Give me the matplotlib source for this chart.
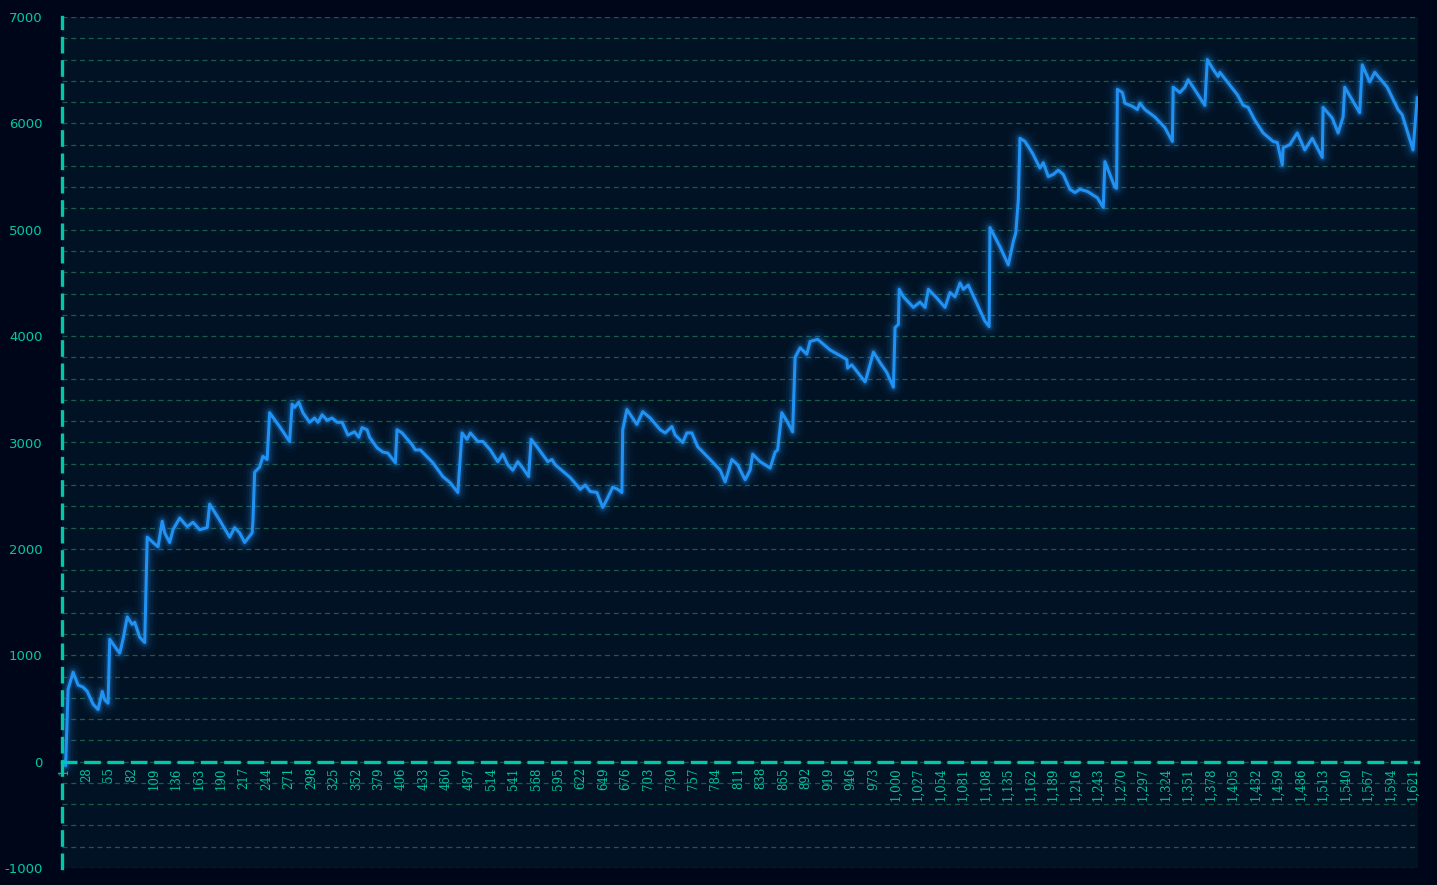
import numpy as np
import matplotlib
matplotlib.use("Agg")
import matplotlib.pyplot as plt
from matplotlib.ticker import MultipleLocator, FixedLocator, FixedFormatter

# vertices of the cumulative series (trade number, value)
trade_idx = [1, 3, 6, 12, 18, 24, 29, 36, 42, 47, 50, 54, 56, 65, 68, 72, 77, 83, 86, 92,
             98, 101, 108, 114, 119, 122, 128, 132, 140, 149, 156, 164, 173, 176, 188, 200, 206, 212, 218, 227,
             228, 230, 236, 240, 245, 248, 260, 272, 275, 278, 283, 288, 296, 302, 306, 311, 317, 323, 329, 335,
             342, 350, 355, 359, 365, 368, 377, 384, 390, 399, 401, 407, 419, 423, 429, 444, 456, 465, 474, 479,
             485, 489, 498, 504, 513, 522, 528, 534, 540, 546, 552, 559, 562, 569, 582, 587, 591, 609, 621, 627,
             633, 641, 648, 654, 660, 666, 671, 672, 677, 689, 696, 705, 717, 723, 731, 735, 744, 749, 755, 762,
             777, 789, 795, 803, 810, 819, 825, 828, 837, 849, 855, 858, 863, 870, 876, 879, 885, 893, 897, 906,
             921, 930, 941, 942, 947, 963, 965, 973, 981, 989, 997, 999, 1003, 1004, 1009, 1021, 1029, 1035, 1039, 1049,
             1059, 1065, 1071, 1077, 1081, 1087, 1097, 1107, 1112, 1113, 1125, 1135, 1141, 1144, 1147, 1149, 1155, 1164, 1173, 1177,
             1183, 1189, 1195, 1201, 1209, 1215, 1221, 1230, 1236, 1242, 1249, 1251, 1263, 1265, 1266, 1272, 1275, 1284, 1290, 1293,
             1299, 1311, 1323, 1332, 1333, 1341, 1347, 1351, 1357, 1371, 1374, 1380, 1387, 1389, 1399, 1410, 1417, 1423, 1431, 1441,
             1453, 1458, 1464, 1465, 1473, 1482, 1491, 1500, 1512, 1513, 1524, 1531, 1537, 1539, 1557, 1560, 1569, 1575, 1590, 1603,
             1608, 1621, 1626]
balance = [0, -40, 680, 840, 720, 700, 660, 540, 490, 660, 580, 550, 1150, 1050, 1020, 1150, 1360, 1290, 1310, 1170,
           1120, 2110, 2060, 2020, 2260, 2150, 2060, 2180, 2290, 2210, 2250, 2180, 2200, 2420, 2270, 2110, 2200, 2150, 2060, 2150,
           2270, 2720, 2770, 2870, 2840, 3280, 3150, 3010, 3360, 3330, 3380, 3280, 3190, 3230, 3190, 3260, 3210, 3230, 3190, 3190,
           3070, 3100, 3050, 3140, 3120, 3050, 2950, 2910, 2900, 2810, 3120, 3090, 2980, 2930, 2930, 2810, 2680, 2620, 2530, 3090,
           3030, 3090, 3010, 3010, 2930, 2820, 2890, 2790, 2740, 2820, 2760, 2680, 3030, 2960, 2820, 2840, 2790, 2670, 2560, 2600,
           2540, 2530, 2390, 2480, 2580, 2560, 2530, 3120, 3310, 3170, 3290, 3230, 3120, 3090, 3150, 3070, 3000, 3090, 3090, 2960,
           2840, 2740, 2630, 2840, 2790, 2650, 2740, 2890, 2820, 2760, 2910, 2930, 3280, 3190, 3100, 3800, 3890, 3830, 3950, 3970,
           3870, 3830, 3780, 3700, 3730, 3570, 3620, 3850, 3750, 3660, 3520, 4080, 4110, 4440, 4370, 4270, 4320, 4270, 4440, 4360,
           4270, 4410, 4370, 4500, 4440, 4480, 4310, 4140, 4090, 5020, 4840, 4670, 4890, 4970, 5280, 5860, 5830, 5720, 5580, 5630,
           5500, 5520, 5560, 5520, 5380, 5350, 5380, 5360, 5330, 5300, 5210, 5640, 5400, 5390, 6320, 6290, 6190, 6160, 6130, 6190,
           6130, 6060, 5960, 5830, 6340, 6290, 6340, 6410, 6340, 6170, 6600, 6520, 6440, 6480, 6380, 6270, 6170, 6150, 6030, 5910,
           5830, 5820, 5610, 5770, 5800, 5910, 5750, 5860, 5680, 6150, 6050, 5910, 6060, 6340, 6100, 6550, 6390, 6480, 6340, 6130,
           6080, 5750, 6240]

x_ticks = list(range(1, 1622, 27))
x_labels = [f"{t:,}" for t in x_ticks]

plt.rcParams["axes.unicode_minus"] = False

fig_bg = "#00061a"
ax_bg = "#011224"
teal = "#00c9a7"
line_col = "#1f8ff0"

fig = plt.figure(figsize=(14.37, 8.85), dpi=100, facecolor=fig_bg)
ax = fig.add_axes([0.0431, 0.0192, 0.9437, 0.9616])
ax.set_facecolor(ax_bg)

# glow under the line
for lw, a in [(16, 0.04), (11, 0.07), (7, 0.12), (4.5, 0.2)]:
    ax.plot(trade_idx, balance, color=line_col, linewidth=lw, alpha=a,
            solid_joinstyle="round", solid_capstyle="round")
ax.plot(trade_idx, balance, color="#2191f2", linewidth=2.2, solid_joinstyle="round")

ax.set_xlim(-1.4, 1627)
ax.set_ylim(-1000, 7000)

ax.yaxis.set_major_locator(MultipleLocator(1000))
ax.yaxis.set_minor_locator(MultipleLocator(200))
ax.grid(which="both", axis="y", color="#1b5a48", linestyle=(0, (4, 3)), linewidth=0.9)
ax.set_axisbelow(True)

ax.xaxis.set_major_locator(FixedLocator(x_ticks))
ax.xaxis.set_major_formatter(FixedFormatter(x_labels))

for s in ["top", "right"]:
    ax.spines[s].set_visible(False)
ax.spines["bottom"].set_position(("data", 0))
for s in ["bottom", "left"]:
    ax.spines[s].set_color(teal)
    ax.spines[s].set_linewidth(2.4)
    ax.spines[s].set_linestyle((0, (4, 3)))

ax.tick_params(axis="x", length=0, pad=4, colors=teal, labelrotation=90)
ax.tick_params(axis="y", which="both", length=0, pad=14, colors=teal, labelsize=9.5)
for lab in ax.get_xticklabels():
    lab.set_fontfamily("DejaVu Serif")
    lab.set_fontsize(8.5)

fig.savefig("out.png", dpi=100, facecolor=fig_bg)
